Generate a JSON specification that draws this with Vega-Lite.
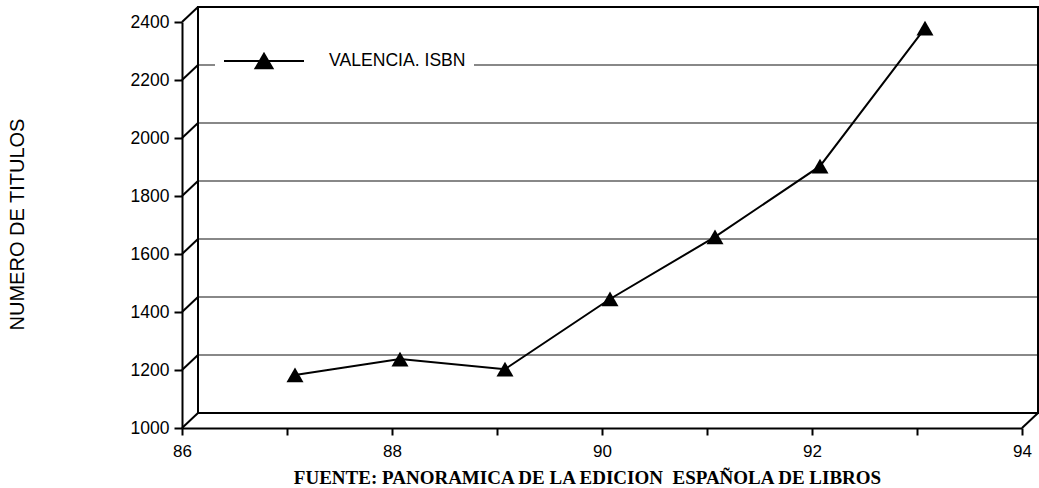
{
  "$schema": "https://vega.github.io/schema/vega-lite/v6.json",
  "width": 840,
  "height": 406,
  "autosize": {"type": "none"},
  "padding": {"left": 182, "top": 22, "right": 17, "bottom": 60},
  "background": "white",
  "config": {"view": {"stroke": null}},
  "datasets": {
    "serie": [
      {"x": 87, "y": 1157, "s": "VALENCIA. ISBN"},
      {"x": 88, "y": 1212, "s": "VALENCIA. ISBN"},
      {"x": 89, "y": 1177, "s": "VALENCIA. ISBN"},
      {"x": 90, "y": 1419, "s": "VALENCIA. ISBN"},
      {"x": 91, "y": 1633, "s": "VALENCIA. ISBN"},
      {"x": 92, "y": 1877, "s": "VALENCIA. ISBN"},
      {"x": 93, "y": 2353, "s": "VALENCIA. ISBN"}
    ],
    "rejilla": [{"y": 1200}, {"y": 1400}, {"y": 1600}, {"y": 1800}, {"y": 2000}, {"y": 2200}],
    "diagonales": [
      {"x": 86, "y": 1000}, {"x": 86, "y": 1200}, {"x": 86, "y": 1400}, {"x": 86, "y": 1600},
      {"x": 86, "y": 1800}, {"x": 86, "y": 2000}, {"x": 86, "y": 2200}, {"x": 86, "y": 2400},
      {"x": 94, "y": 1000}
    ],
    "pared": [{"x": 86, "x2": 94, "y": 1000, "y2": 2400}]
  },
  "layer": [
    {
      "data": {"name": "rejilla"},
      "mark": {"type": "rule", "color": "#888888", "strokeWidth": 2, "xOffset": 16, "x2Offset": 16, "yOffset": -15},
      "encoding": {
        "x": {"datum": 86, "type": "quantitative",
          "scale": {"domain": [86, 94], "nice": false, "zero": false},
          "axis": {
            "values": [86, 87, 88, 89, 90, 91, 92, 93, 94],
            "labelExpr": "datum.value % 2 === 0 ? datum.label : ''",
            "format": "d",
            "grid": false,
            "domainColor": "black", "domainWidth": 2,
            "tickColor": "black", "tickWidth": 2, "tickSize": 7,
            "labelFont": "Liberation Sans", "labelFontSize": 17, "labelColor": "black", "labelPadding": 8,
            "labelFlush": false, "labelOverlap": false,
            "title": "FUENTE: PANORAMICA DE LA EDICION \u00a0ESPAÑOLA DE LIBROS",
            "titleFont": "Liberation Serif", "titleFontWeight": "bold", "titleFontSize": 19, "titleColor": "black",
            "titleX": 405, "titleY": 55, "titleAlign": "center", "titleBaseline": "alphabetic"
          }
        },
        "x2": {"datum": 94},
        "y": {"field": "y", "type": "quantitative",
          "scale": {"domain": [1000, 2400], "nice": false, "zero": false},
          "axis": {
            "values": [1000, 1200, 1400, 1600, 1800, 2000, 2200, 2400],
            "format": "d",
            "grid": false,
            "domainColor": "black", "domainWidth": 2,
            "tickColor": "black", "tickWidth": 2, "tickSize": 8,
            "labelFont": "Liberation Sans", "labelFontSize": 17.5, "labelColor": "black", "labelPadding": 5,
            "labelFlush": false, "labelOverlap": false,
            "title": "NUMERO DE TITULOS",
            "titleFont": "Liberation Sans", "titleFontWeight": "normal", "titleFontSize": 20, "titleColor": "black",
            "titleX": -165, "titleY": 202, "titleAngle": -90, "titleAlign": "center", "titleBaseline": "middle"
          }
        }
      }
    },
    {
      "data": {"name": "pared"},
      "mark": {"type": "rect", "fill": "transparent", "stroke": "black", "strokeWidth": 2, "xOffset": 16, "x2Offset": 16, "yOffset": -15, "y2Offset": -15},
      "encoding": {
        "x": {"field": "x", "type": "quantitative"},
        "x2": {"field": "x2"},
        "y": {"field": "y", "type": "quantitative"},
        "y2": {"field": "y2"}
      }
    },
    {
      "data": {"name": "diagonales"},
      "mark": {"type": "rule", "color": "black", "strokeWidth": 2, "x2Offset": 16, "y2Offset": -15},
      "encoding": {
        "x": {"field": "x", "type": "quantitative"},
        "x2": {"field": "x"},
        "y": {"field": "y", "type": "quantitative"},
        "y2": {"field": "y"}
      }
    },
    {
      "data": {"name": "serie"},
      "mark": {"type": "line", "color": "black", "strokeWidth": 2, "xOffset": 8, "yOffset": -7.5},
      "encoding": {
        "x": {"field": "x", "type": "quantitative"},
        "y": {"field": "y", "type": "quantitative"}
      }
    },
    {
      "data": {"name": "serie"},
      "mark": {"type": "point", "shape": "triangle-up", "filled": true, "size": 290, "opacity": 1, "xOffset": 8, "yOffset": -7.5},
      "encoding": {
        "x": {"field": "x", "type": "quantitative"},
        "y": {"field": "y", "type": "quantitative"},
        "color": {"field": "s", "type": "nominal", "scale": {"range": ["black"]},
          "legend": {
            "orient": "none", "legendX": 33, "legendY": -10, "title": null,
            "fillColor": "white", "padding": 8,
            "symbolType": "M-1,0L1,0M0,-0.184L0.2125,0.184L-0.2125,0.184Z",
            "symbolSize": 6400, "symbolStrokeColor": "black", "symbolFillColor": "black", "symbolStrokeWidth": 2,
            "labelFont": "Liberation Sans", "labelFontSize": 17.6, "labelColor": "black", "labelOffset": 24,
            "labelExpr": "datum.label + '\u00a0\u00a0'"
          }
        }
      }
    }
  ]
}
